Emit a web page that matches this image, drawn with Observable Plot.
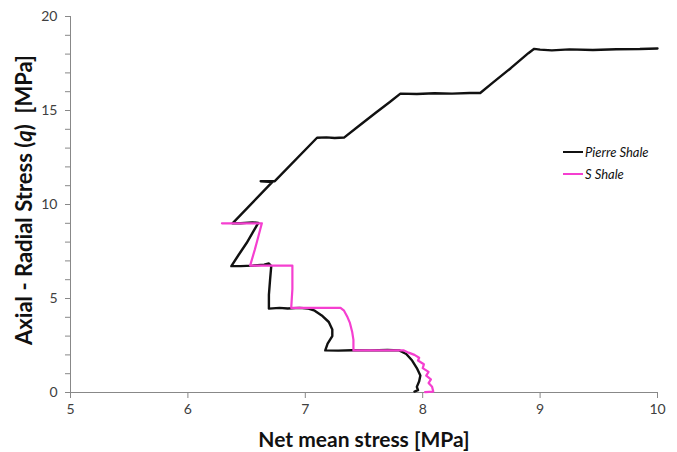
<!DOCTYPE html>
<html>
<head>
<meta charset="utf-8">
<script src="https://cdn.jsdelivr.net/npm/d3@7"></script>
<script src="https://cdn.jsdelivr.net/npm/@observablehq/plot@0.6"></script>
<style>
  html, body { margin: 0; padding: 0; background: #fff; }
  #wrap { position: relative; width: 677px; height: 452px; font-family: Lato, "Open Sans", sans-serif; }
  .leg { position: absolute; left: 563px; font-style: italic; font-size: 13px; color: #111; display: flex; align-items: center; }
  .leg span.sw { display: inline-block; width: 20px; height: 2px; margin-right: 2px; }
</style>
</head>
<body>
<div id="wrap"></div>
<script>
// Pierre Shale (black) path, bottom to top
const pierreX = [7.93,7.96,7.95,7.97,7.98,7.95,7.91,7.86,7.80,7.70,7.55,7.40,7.28,7.17,7.19,7.23,7.23,7.20,7.14,7.08,7.02,6.95,6.85,6.78,6.69,6.69,6.70,6.71,6.69,6.65,6.55,6.45,6.37,6.43,6.50,6.56,6.60,6.55,6.45,6.38,6.72,6.62,6.74,7.10,7.18,7.25,7.33,7.45,7.60,7.72,7.81,7.95,8.10,8.25,8.40,8.49,8.60,8.75,8.90,8.95,9.00,9.10,9.25,9.45,9.65,9.85,10.00];
const pierreY = [0.05,0.12,0.30,0.60,0.90,1.30,1.70,2.05,2.24,2.26,2.24,2.25,2.23,2.24,2.60,3.00,3.35,3.75,4.10,4.35,4.47,4.50,4.47,4.50,4.46,5.20,6.00,6.72,6.86,6.80,6.75,6.72,6.72,7.30,7.95,8.60,9.02,9.05,9.00,9.00,11.20,11.24,11.24,13.55,13.57,13.54,13.56,14.15,14.88,15.45,15.90,15.88,15.92,15.90,15.93,15.93,16.50,17.25,18.05,18.28,18.24,18.20,18.25,18.22,18.26,18.27,18.30];

// S Shale (pink) path, bottom to top
const sShaleX = [8.02,8.09,8.08,8.05,8.07,8.03,8.05,8.00,8.01,7.96,7.97,7.93,7.88,7.84,7.70,7.55,7.41,7.41,7.40,7.38,7.36,7.33,7.30,7.15,7.00,6.88,6.89,6.89,6.75,6.60,6.53,6.57,6.60,6.63,6.50,6.40,6.29];
const sShaleY = [0.02,0.05,0.30,0.50,0.70,0.90,1.10,1.30,1.50,1.70,1.85,2.00,2.12,2.24,2.24,2.24,2.24,2.80,3.20,3.70,4.00,4.35,4.50,4.50,4.50,4.50,5.50,6.75,6.75,6.75,6.75,7.60,8.30,9.00,9.00,9.00,9.00];

const xTicks = [5,6,7,8,9,10];
const yTicks = [0,1,2,3,4,5,6,7,8,9,10,11,12,13,14,15,16,17,18,19,20];
const seriesNames = ["Pierre Shale", "S Shale"];
const seriesColors = ["#111111", "#f53fd0"];

const pierre = pierreX.map((x, i) => ({x, y: pierreY[i]}));
const sShale = sShaleX.map((x, i) => ({x, y: sShaleY[i]}));

const chart = Plot.plot({
  width: 677,
  height: 452,
  marginLeft: 70,
  marginRight: 20,
  marginTop: 16,
  marginBottom: 60,
  style: {fontFamily: "Lato, 'Open Sans', sans-serif", fontSize: "14px", color: "#404040", background: "#fff"},
  x: {domain: [5, 10]},
  y: {domain: [0, 20]},
  marks: [
    Plot.axisX({ticks: xTicks, tickSize: 6, tickPadding: 6, label: null, stroke: "#888", fill: "#404040",
      tickFormat: d3.format("d")}),
    Plot.axisY({ticks: yTicks, tickSize: 5, tickPadding: 8, label: null, stroke: "#888", fill: "#404040",
      tickFormat: d => d % 5 === 0 ? String(d) : ""}),
    Plot.ruleX([5], {stroke: "#888"}),
    Plot.ruleY([0], {stroke: "#888"}),
    Plot.line(pierre, {x: "x", y: "y", stroke: seriesColors[0], strokeWidth: 2.4, curve: "linear"}),
    Plot.line(sShale, {x: "x", y: "y", stroke: seriesColors[1], strokeWidth: 2.2, curve: "linear"})
  ]
});

const svg = d3.select(chart);
// x axis title
svg.append("text")
  .attr("x", 364).attr("y", 447)
  .attr("text-anchor", "middle")
  .attr("font-family", "Lato, 'Open Sans', sans-serif")
  .attr("font-size", 21).attr("font-weight", "bold").attr("fill", "#111")
  .text("Net mean stress [MPa]");
// y axis title
const yt = svg.append("text")
  .attr("transform", "translate(32,200) rotate(-90)")
  .attr("text-anchor", "middle")
  .attr("font-family", "Lato, 'Open Sans', sans-serif")
  .attr("font-size", 22).attr("font-weight", "bold").attr("fill", "#111");
yt.append("tspan").text("Axial - Radial Stress (");
yt.append("tspan").attr("font-style", "italic").text("q");
yt.append("tspan").text(")\u00a0\u00a0[MPa]");

const wrap = document.getElementById("wrap");
wrap.appendChild(chart);
seriesNames.forEach((name, i) => {
  const d = document.createElement("div");
  d.className = "leg";
  d.style.top = (144 + i * 22) + "px";
  d.innerHTML = `<span class="sw" style="background:${seriesColors[i]}"></span>${name}`;
  wrap.appendChild(d);
});
</script>
</body>
</html>
